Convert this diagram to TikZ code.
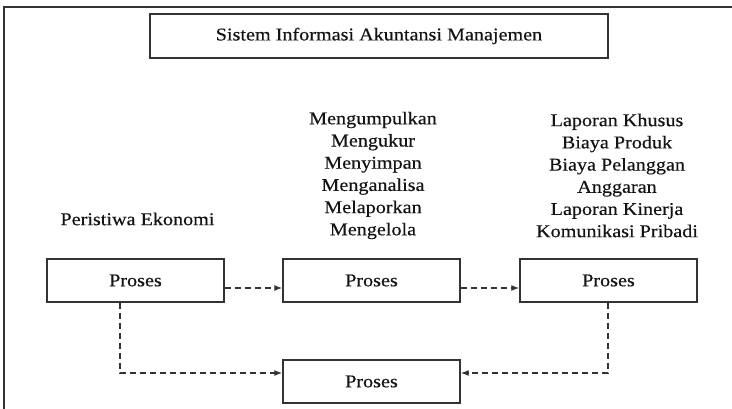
\documentclass[tikz,border=0pt]{standalone}
\usepackage{fontspec}
\setmainfont{Liberation Serif}[FakeStretch=1.12,FakeBold=0.4]
\usetikzlibrary{arrows.meta,calc}
\definecolor{ink}{HTML}{333333}
\definecolor{txt}{HTML}{141414}
\begin{document}
\begin{tikzpicture}[x=1pt,y=-1pt,
  font=\fontsize{18}{22.2}\selectfont,
  text=txt,
  procbox/.style={draw=ink,line width=1.4pt,fill=white,
    minimum width=177pt,minimum height=43pt,inner sep=0pt},
  titlebox/.style={draw=ink,line width=1.4pt,
    minimum width=458pt,minimum height=44pt,inner sep=0pt},
  itemlist/.style={align=center,inner sep=0pt},
  flow/.style={draw=ink,line width=1.3pt,dash pattern=on 6pt off 4pt,
    -{Latex[length=8pt,width=6pt]}}]
\useasboundingbox (0,0) rectangle (732,409);

% frame
\draw[ink,line width=1.4pt] (4,410) -- (4,7) -- (734,7);

% title
\node[titlebox] (title) at (379,36) {Sistem Informasi Akuntansi Manajemen};

% process boxes
\node[procbox] (p1) at (135.5,280.5) {Proses};
\node[procbox] (p2) at (371.5,280.5) {Proses};
\node[procbox] (p3) at (608.5,280.5) {Proses};
\node[procbox] (p4) at (371.5,381.5) {Proses};

% labels above the boxes
\node[itemlist] (ev) at (137.5,219) {Peristiwa Ekonomi};
\node[itemlist] (acts) at (373,175.5) {Mengumpulkan\\Mengukur\\Menyimpan\\Menganalisa\\Melaporkan\\Mengelola};
\node[itemlist] (outs) at (617,175.5) {Laporan Khusus\\Biaya Produk\\Biaya Pelanggan\\Anggaran\\Laporan Kinerja\\Komunikasi Pribadi};

% connector levels
\coordinate (hA) at (0,288);
\coordinate (hB) at (0,373);
\coordinate (vL) at (120,0);
\coordinate (vR) at (608,0);

% connectors
\draw[flow] (p1.east |- hA) -- (p2.west |- hA);
\draw[flow] (p2.east |- hA) -- (p3.west |- hA);
\draw[flow] (p1.south -| vL) -- (vL |- hB) -- (p4.west |- hB);
\draw[flow] (p3.south -| vR) -- (vR |- hB) -- (p4.east |- hB);
\end{tikzpicture}
\end{document}
